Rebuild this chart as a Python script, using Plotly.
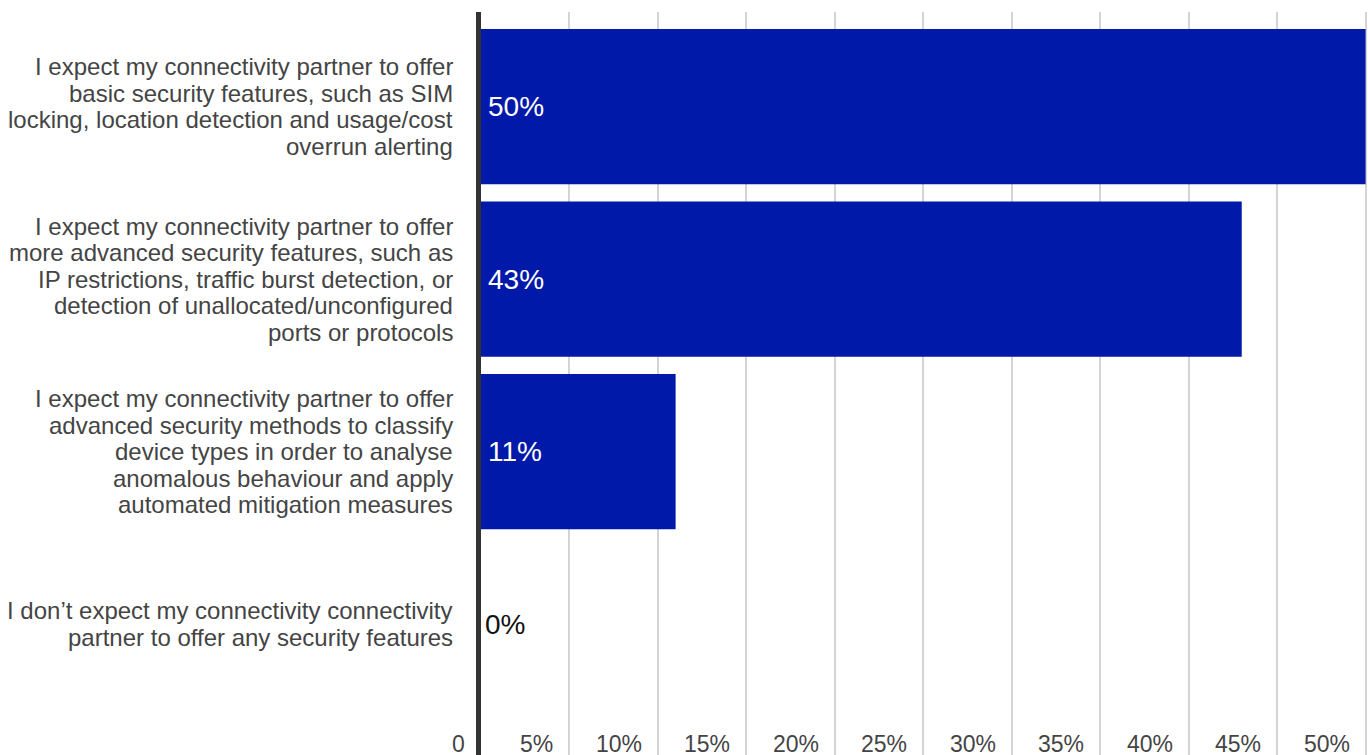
import plotly.graph_objects as go

# Survey responses: share of respondents per expectation
categories = [
    "I expect my connectivity partner to offer<br>basic security features, such as SIM<br>locking, location detection and usage/cost<br>overrun alerting",
    "I expect my connectivity partner to offer<br>more advanced security features, such as<br>IP restrictions, traffic burst detection, or<br>detection of unallocated/unconfigured<br>ports or protocols",
    "I expect my connectivity partner to offer<br>advanced security methods to classify<br>device types in order to analyse<br>anomalous behaviour and apply<br>automated mitigation measures",
    "I don\u2019t expect my connectivity connectivity<br>partner to offer any security features",
]
values = [50, 43, 11, 0]

tick_values = [0, 5, 10, 15, 20, 25, 30, 35, 40, 45, 50]
tick_labels = ["0", "5%", "10%", "15%", "20%", "25%", "30%", "35%", "40%", "45%", "50%"]

BAR_COLOR = "#0019A8"
TEXT_COLOR = "#444444"
FONT = "Liberation Sans, Arial, sans-serif"

fig = go.Figure(
    go.Bar(
        x=values,
        y=categories,
        orientation="h",
        marker=dict(color=BAR_COLOR, line=dict(width=0)),
        hoverinfo="skip",
    )
)

annotations = []

# Category labels, one annotation per line for tight line spacing
LINE_GAP = 26.5
for cat in categories:
    lines = cat.split("<br>")
    n = len(lines)
    for j, line in enumerate(lines):
        annotations.append(
            dict(
                text=line,
                xref="paper", x=0,
                yref="y", y=cat,
                xanchor="right", yanchor="middle",
                xshift=-26,
                yshift=((n - 1) / 2 - j) * LINE_GAP,
                showarrow=False,
                align="right",
                font=dict(family=FONT, size=24, color=TEXT_COLOR),
            )
        )

# Value labels at the base of each bar
for cat, v in zip(categories, values):
    annotations.append(
        dict(
            text=f"{v}%",
            xref="x", x=0,
            yref="y", y=cat,
            xanchor="left", yanchor="middle",
            xshift=5 if v > 0 else 2,
            showarrow=False,
            font=dict(family=FONT, size=28, color="#ffffff" if v > 0 else "#111111"),
        )
    )

# Axis value labels, right-aligned just left of each gridline, sitting at the bottom
for tv, tl in zip(tick_values, tick_labels):
    annotations.append(
        dict(
            text=tl,
            xref="x", x=tv,
            yref="paper", y=0,
            xanchor="right", yanchor="middle",
            xshift=-14, yshift=11,
            showarrow=False,
            font=dict(family=FONT, size=23, color=TEXT_COLOR),
        )
    )

fig.update_layout(
    width=1368,
    height=755,
    margin=dict(l=481, r=1, t=12, b=0),
    paper_bgcolor="white",
    plot_bgcolor="white",
    showlegend=False,
    bargap=0.1,
    annotations=annotations,
    xaxis=dict(
        range=[0, 50.08],
        tickvals=tick_values,
        showticklabels=False,
        showgrid=True,
        gridcolor="#d4d4d4",
        gridwidth=2,
        zeroline=False,
        showline=False,
        ticks="",
        fixedrange=True,
    ),
    yaxis=dict(
        categoryorder="array",
        categoryarray=categories,
        range=[3.7586, -0.5487],
        showticklabels=False,
        showgrid=False,
        zeroline=False,
        showline=True,
        linecolor="#333333",
        linewidth=5,
        ticks="",
        fixedrange=True,
    ),
)

fig.write_html("out.html")
